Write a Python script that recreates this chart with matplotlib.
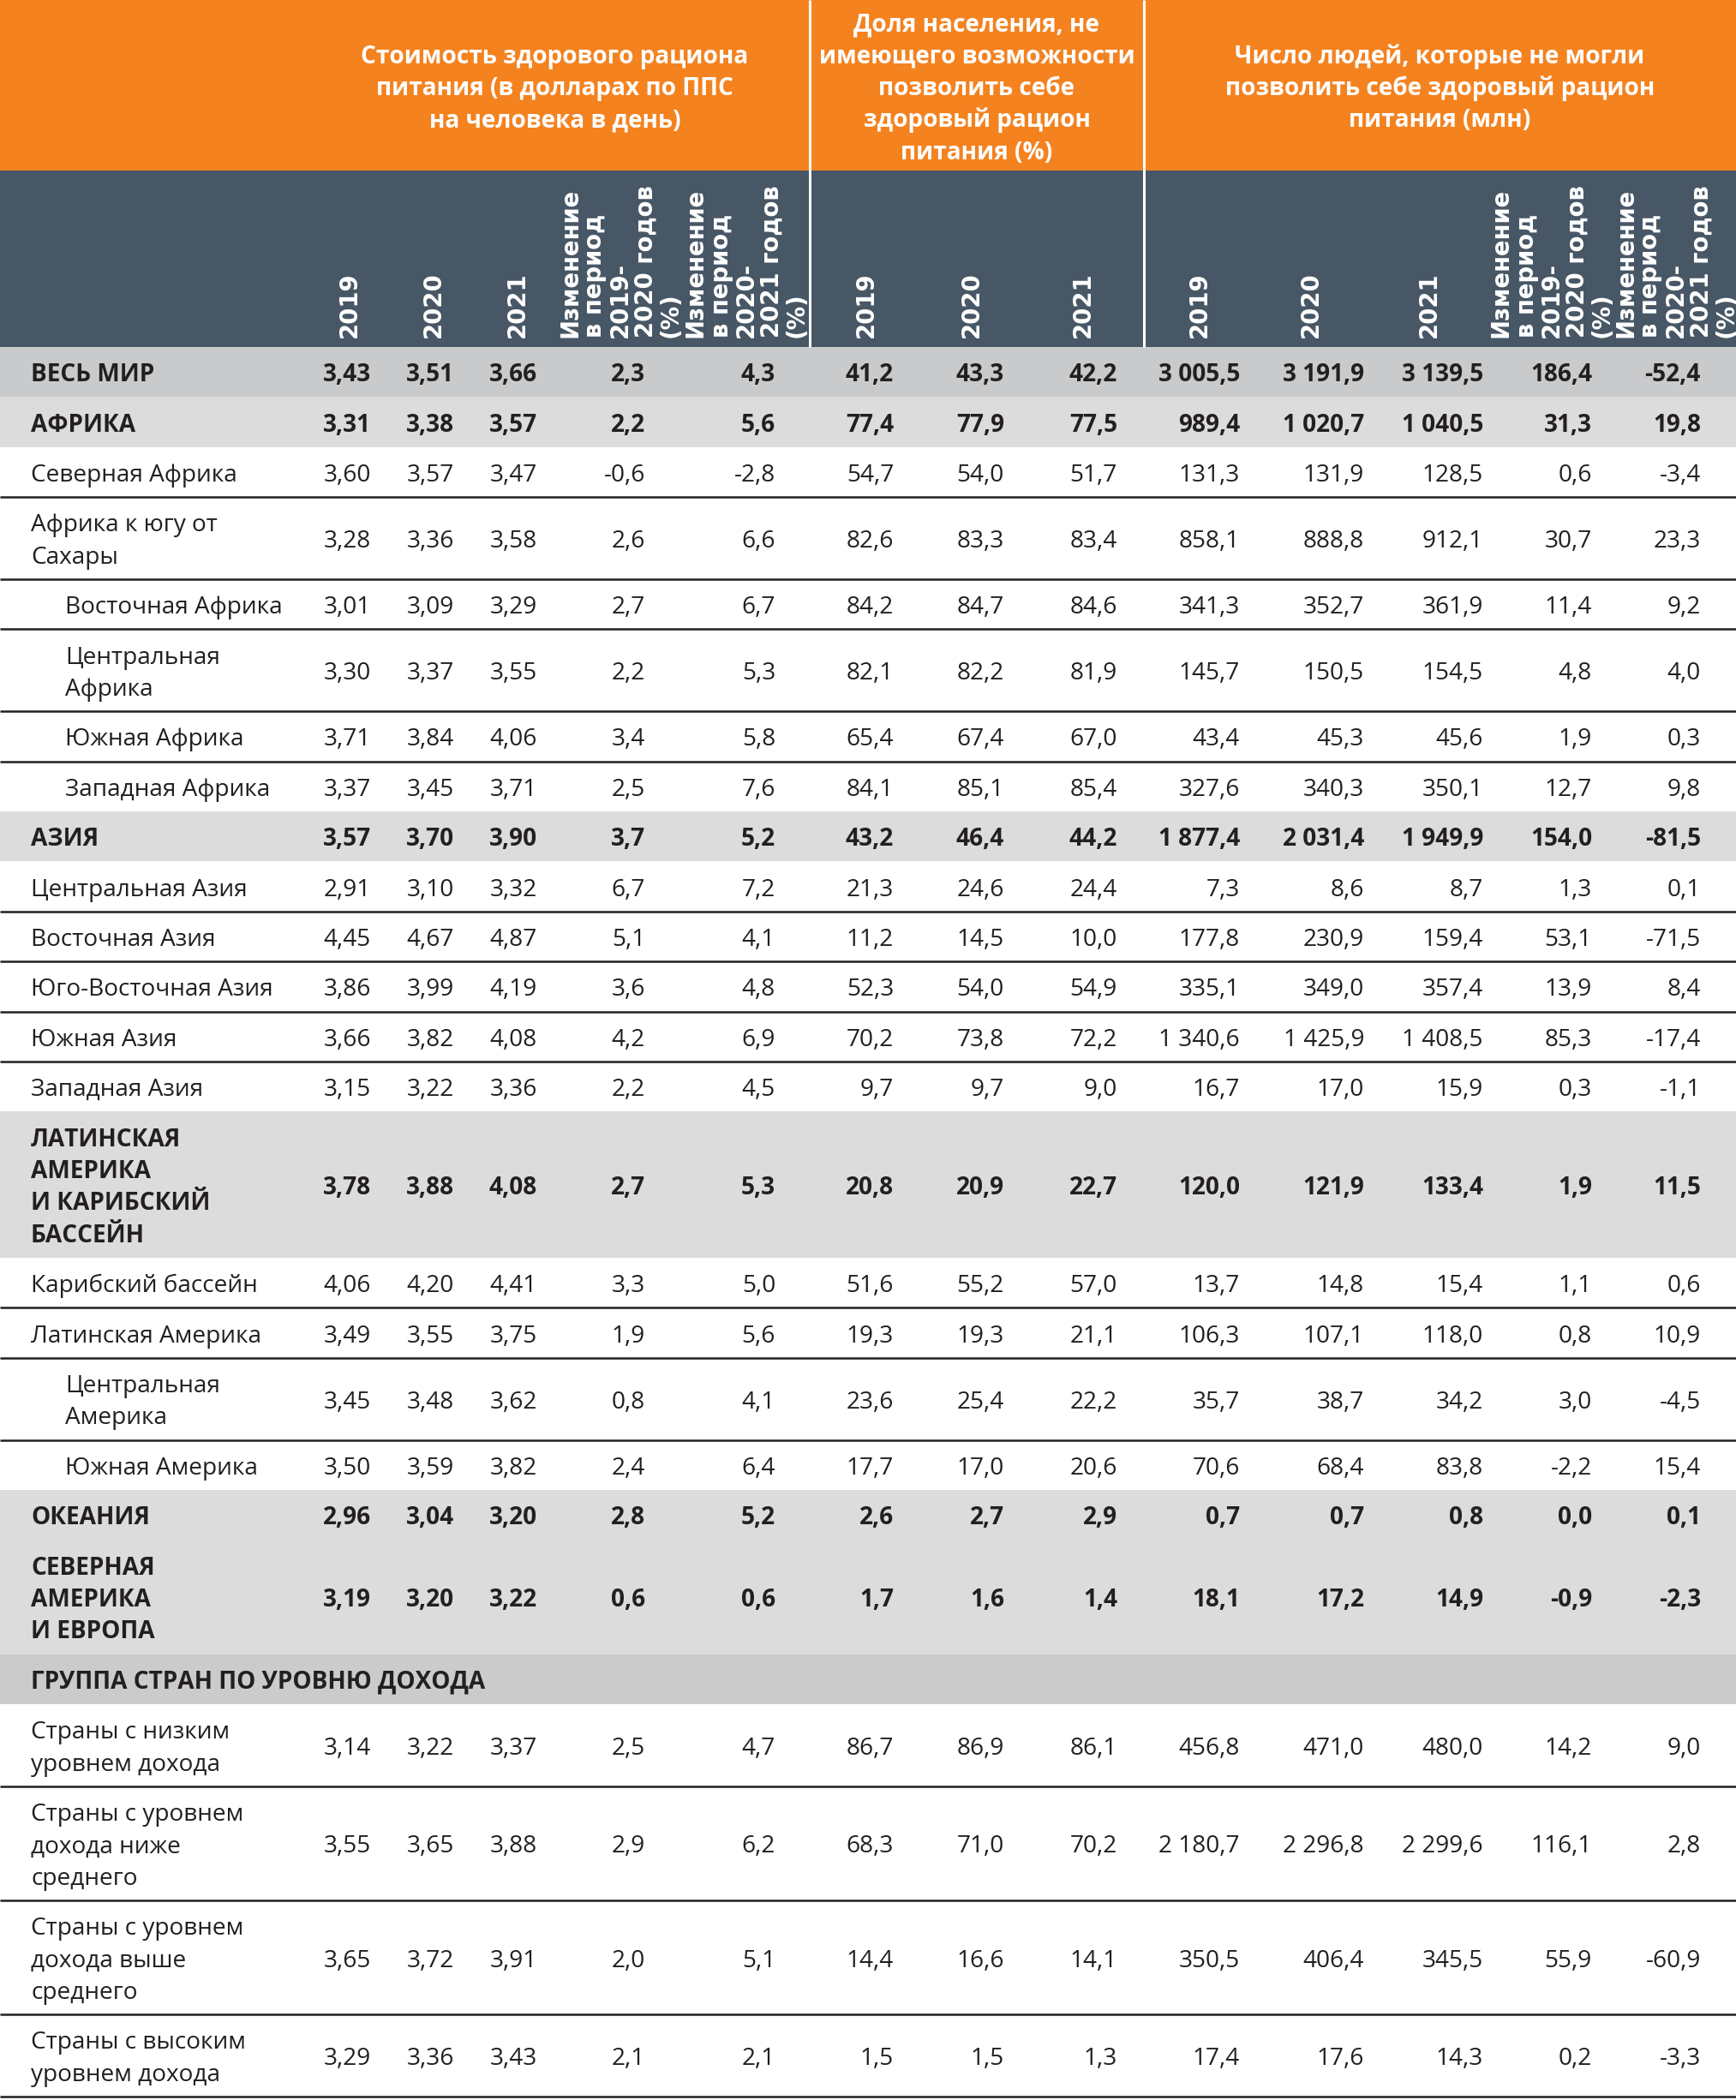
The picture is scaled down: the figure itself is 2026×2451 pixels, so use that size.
import matplotlib
matplotlib.use("Agg")
import matplotlib.pyplot as plt
from matplotlib.patches import Rectangle

# ---------------- data ----------------
group_titles = [
    ["Стоимость здорового рациона", "питания (в долларах по ППС", "на человека в день)"],
    ["Доля населения, не", "имеющего возможности", "позволить себе", "здоровый рацион", "питания (%)"],
    ["Число людей, которые не могли", "позволить себе здоровый рацион", "питания (млн)"],
]
year_labels = ["2019", "2020", "2021"]
change_labels = [
    ["Изменение", "в период", "2019-", "2020 годов", "(%)"],
    ["Изменение", "в период", "2020-", "2021 годов", "(%)"],
]

row_labels = [
    "ВЕСЬ МИР", "АФРИКА", "Северная Африка", "Африка к югу от\nСахары",
    "Восточная Африка", "Центральная\nАфрика", "Южная Африка", "Западная Африка",
    "АЗИЯ", "Центральная Азия", "Восточная Азия", "Юго-Восточная Азия",
    "Южная Азия", "Западная Азия", "ЛАТИНСКАЯ\nАМЕРИКА\nИ КАРИБСКИЙ\nБАССЕЙН",
    "Карибский бассейн", "Латинская Америка", "Центральная\nАмерика", "Южная Америка",
    "ОКЕАНИЯ", "СЕВЕРНАЯ\nАМЕРИКА\nИ ЕВРОПА", "ГРУППА СТРАН ПО УРОВНЮ ДОХОДА",
    "Страны с низким\nуровнем дохода", "Страны с уровнем\nдохода ниже\nсреднего",
    "Страны с уровнем\nдохода выше\nсреднего", "Страны с высоким\nуровнем дохода",
]
row_kind = [
    "total", "region", "sub", "sub", "subsub", "subsub", "subsub", "subsub",
    "region", "sub", "sub", "sub", "sub", "sub", "region",
    "sub", "sub", "subsub", "subsub", "region", "region", "group",
    "sub", "sub", "sub", "sub",
]

N = None
cost_2019 = [3.43, 3.31, 3.60, 3.28, 3.01, 3.30, 3.71, 3.37, 3.57, 2.91, 4.45, 3.86, 3.66, 3.15, 3.78, 4.06, 3.49, 3.45, 3.50, 2.96, 3.19, N, 3.14, 3.55, 3.65, 3.29]
cost_2020 = [3.51, 3.38, 3.57, 3.36, 3.09, 3.37, 3.84, 3.45, 3.70, 3.10, 4.67, 3.99, 3.82, 3.22, 3.88, 4.20, 3.55, 3.48, 3.59, 3.04, 3.20, N, 3.22, 3.65, 3.72, 3.36]
cost_2021 = [3.66, 3.57, 3.47, 3.58, 3.29, 3.55, 4.06, 3.71, 3.90, 3.32, 4.87, 4.19, 4.08, 3.36, 4.08, 4.41, 3.75, 3.62, 3.82, 3.20, 3.22, N, 3.37, 3.88, 3.91, 3.43]
cost_ch1 = [2.3, 2.2, -0.6, 2.6, 2.7, 2.2, 3.4, 2.5, 3.7, 6.7, 5.1, 3.6, 4.2, 2.2, 2.7, 3.3, 1.9, 0.8, 2.4, 2.8, 0.6, N, 2.5, 2.9, 2.0, 2.1]
cost_ch2 = [4.3, 5.6, -2.8, 6.6, 6.7, 5.3, 5.8, 7.6, 5.2, 7.2, 4.1, 4.8, 6.9, 4.5, 5.3, 5.0, 5.6, 4.1, 6.4, 5.2, 0.6, N, 4.7, 6.2, 5.1, 2.1]
pct_2019 = [41.2, 77.4, 54.7, 82.6, 84.2, 82.1, 65.4, 84.1, 43.2, 21.3, 11.2, 52.3, 70.2, 9.7, 20.8, 51.6, 19.3, 23.6, 17.7, 2.6, 1.7, N, 86.7, 68.3, 14.4, 1.5]
pct_2020 = [43.3, 77.9, 54.0, 83.3, 84.7, 82.2, 67.4, 85.1, 46.4, 24.6, 14.5, 54.0, 73.8, 9.7, 20.9, 55.2, 19.3, 25.4, 17.0, 2.7, 1.6, N, 86.9, 71.0, 16.6, 1.5]
pct_2021 = [42.2, 77.5, 51.7, 83.4, 84.6, 81.9, 67.0, 85.4, 44.2, 24.4, 10.0, 54.9, 72.2, 9.0, 22.7, 57.0, 21.1, 22.2, 20.6, 2.9, 1.4, N, 86.1, 70.2, 14.1, 1.3]
num_2019 = [3005.5, 989.4, 131.3, 858.1, 341.3, 145.7, 43.4, 327.6, 1877.4, 7.3, 177.8, 335.1, 1340.6, 16.7, 120.0, 13.7, 106.3, 35.7, 70.6, 0.7, 18.1, N, 456.8, 2180.7, 350.5, 17.4]
num_2020 = [3191.9, 1020.7, 131.9, 888.8, 352.7, 150.5, 45.3, 340.3, 2031.4, 8.6, 230.9, 349.0, 1425.9, 17.0, 121.9, 14.8, 107.1, 38.7, 68.4, 0.7, 17.2, N, 471.0, 2296.8, 406.4, 17.6]
num_2021 = [3139.5, 1040.5, 128.5, 912.1, 361.9, 154.5, 45.6, 350.1, 1949.9, 8.7, 159.4, 357.4, 1408.5, 15.9, 133.4, 15.4, 118.0, 34.2, 83.8, 0.8, 14.9, N, 480.0, 2299.6, 345.5, 14.3]
num_ch1 = [186.4, 31.3, 0.6, 30.7, 11.4, 4.8, 1.9, 12.7, 154.0, 1.3, 53.1, 13.9, 85.3, 0.3, 1.9, 1.1, 0.8, 3.0, -2.2, 0.0, -0.9, N, 14.2, 116.1, 55.9, 0.2]
num_ch2 = [-52.4, 19.8, -3.4, 23.3, 9.2, 4.0, 0.3, 9.8, -81.5, 0.1, -71.5, 8.4, -17.4, -1.1, 11.5, 0.6, 10.9, -4.5, 15.4, 0.1, -2.3, N, 9.0, 2.8, -60.9, -3.3]

# ---------------- layout / style ----------------
W, H = 2026, 2451
ORANGE = "#F4821F"
SLATE = "#485765"
GRAY_TOTAL = "#c9cacc"
GRAY_REGION = "#dcdcdc"
GRAY_GROUP = "#cbcbcb"
INK = "#231f20"
BODY = ["Open Sans", "DejaVu Sans"]
HEAD = ["DejaVu Sans"]

PX = 0.72  # points per pixel at dpi 100
body_fs = 28 * PX
title_fs = 28 * PX
rot_fs = 27.5 * PX

fig = plt.figure(figsize=(W / 100, H / 100), dpi=100)
ax = fig.add_axes([0, 0, 1, 1])
ax.set_xlim(0, W)
ax.set_ylim(H, 0)
ax.axis("off")

orange_bottom = 199
header_bottom = 405
sep_x = [945, 1335]
group_spans = [(350, 945), (945, 1335), (1335, 2026)]

# header backgrounds
ax.add_patch(Rectangle((0, 0), W, orange_bottom, facecolor=ORANGE, edgecolor="none"))
ax.add_patch(Rectangle((0, orange_bottom), W, header_bottom - orange_bottom, facecolor=SLATE, edgecolor="none"))
for sx in sep_x:
    ax.plot([sx, sx], [0, header_bottom], color="white", lw=2.2, solid_capstyle="butt")

# group titles
line_step = 37.4
for (x0, x1), lines in zip(group_spans, group_titles):
    cx = (x0 + x1) / 2
    n = len(lines)
    for i, ln in enumerate(lines):
        yc = 101 + (i - (n - 1) / 2) * line_step
        ax.text(cx, yc + 10, ln, ha="center", va="baseline", color="white",
                fontsize=title_fs, fontweight="bold", family=BODY)

# rotated column headers
year_centers = [[408, 506, 604], [1011, 1134, 1264], [1400, 1530, 1668]]
change_lefts = [[651, 798], [None], [1738, 1883]]
rot_bottom = 394
rot_step = 29.5
for g in range(3):
    for yx, lab in zip(year_centers[g], year_labels):
        ax.text(yx, rot_bottom, lab, rotation=90, ha="center", va="bottom",
                color="white", fontsize=rot_fs, fontweight="bold", family=HEAD)
    if g != 1:
        for left, lines in zip(change_lefts[g], change_labels):
            for i, ln in enumerate(lines):
                ax.text(left + i * rot_step, rot_bottom, ln, rotation=90, ha="left", va="bottom",
                        color="white", fontsize=rot_fs, fontweight="bold", family=HEAD)

# body
columns = [
    (cost_2019, 2, 433), (cost_2020, 2, 530), (cost_2021, 2, 627),
    (cost_ch1, 1, 753), (cost_ch2, 1, 905),
    (pct_2019, 1, 1043), (pct_2020, 1, 1172), (pct_2021, 1, 1304),
    (num_2019, 1, 1447), (num_2020, 1, 1592), (num_2021, 1, 1731),
    (num_ch1, 1, 1858), (num_ch2, 1, 1985),
]


def fmt(v, d):
    s = f"{v:,.{d}f}"
    return s.replace(",", " ").replace(".", ",")


bg = {"total": GRAY_TOTAL, "region": GRAY_REGION, "group": GRAY_GROUP}
label_x = {"total": 36, "region": 36, "group": 36, "sub": 36, "subsub": 76}

y = header_bottom
tops = []
for r, (lab, kind) in enumerate(zip(row_labels, row_kind)):
    lines = lab.split("\n")
    h = 21 + line_step * len(lines)
    tops.append((y, h, kind))
    if kind in bg:
        ax.add_patch(Rectangle((0, y), W, h, facecolor=bg[kind], edgecolor="none"))
    bold = kind in ("total", "region", "group")
    weight = "bold" if bold else "normal"
    yc = y + h / 2
    n = len(lines)
    for i, ln in enumerate(lines):
        ly = yc + (i - (n - 1) / 2) * line_step
        ax.text(label_x[kind], ly + 11, ln, ha="left", va="baseline", color=INK,
                fontsize=body_fs, fontweight=weight, family=BODY)
    for vals, dec, xr in columns:
        v = vals[r]
        if v is None:
            continue
        ax.text(xr, yc + 11, fmt(v, dec), ha="right", va="baseline", color=INK,
                fontsize=body_fs, fontweight=weight, family=BODY)
    y += h

# rules between consecutive white rows and at the bottom
white = ("sub", "subsub")
for i, (top, h, kind) in enumerate(tops):
    bottom = top + h
    last = i == len(tops) - 1
    if kind in white and (last or tops[i + 1][2] in white):
        ax.plot([0, W], [bottom, bottom], color=INK, lw=1.8, solid_capstyle="butt")

fig.savefig("out.png", dpi=100)
